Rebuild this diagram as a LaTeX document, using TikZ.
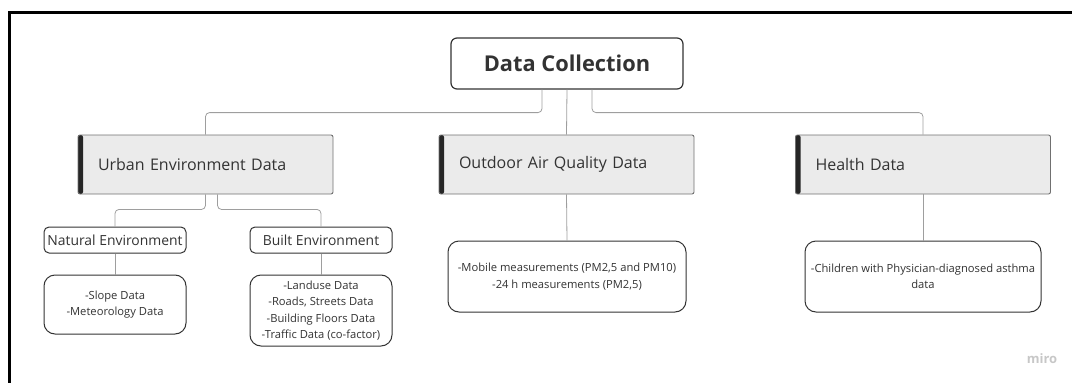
\documentclass[tikz,border=0pt]{standalone}
\usepackage{fontspec}
\setmainfont{Open Sans}
\usepackage{tikz}
\usetikzlibrary{positioning}

\definecolor{ink}{HTML}{333333}
\definecolor{wire}{HTML}{9E9E9E}
\definecolor{panel}{HTML}{EBEBEB}
\definecolor{edge}{HTML}{707070}

\begin{document}
\begin{tikzpicture}[x=1pt,y=-1pt]
    \tikzstyle{every node}+=[inner sep=0pt, text=ink]
    \tikzstyle{rootbox}=[draw=ink, line width=1.2pt, rounded corners=6pt, fill=white,
        minimum width=232pt, minimum height=51pt, font=\bfseries\fontsize{21.8}{24}\selectfont]
    \tikzstyle{groupbox}=[draw=edge, line width=0.9pt, rounded corners=2pt, fill=panel,
        minimum height=59pt, text width=215pt, inner xsep=20pt, align=left,
        font=\fontsize{16}{19}\selectfont,
        path picture={\fill[black!85] (path picture bounding box.south west)
            rectangle ([xshift=5pt]path picture bounding box.north west);}]
    \tikzstyle{subbox}=[draw=ink, line width=1pt, rounded corners=5pt, fill=white,
        minimum width=142pt, minimum height=26pt, font=\fontsize{13.9}{16}\selectfont]
    \tikzstyle{itembox}=[draw=ink, line width=1pt, rounded corners=11pt, fill=white,
        align=center, font=\fontsize{11.2}{16.3}\selectfont]
    \tikzstyle{link}=[draw=wire, line width=0.8pt, rounded corners=4pt]
    \useasboundingbox (0,0) rectangle (1072,383);
    % frame
    \draw [black, line width=3pt] (9,383) -- (9,12.5) -- (1072,12.5);
    % boxes
    \node [rootbox] (dc) at (567,63.5) {Data Collection};
    \node [groupbox] (urban) at (205.5,164.5) {Urban Environment Data};
    \node [groupbox] (air) at (566.5,164.5) {Outdoor Air Quality Data};
    \node [groupbox] (health) at (923,164.5) {Health Data};
    \node [subbox] (natural) at (115,240) {Natural Environment};
    \node [subbox] (built) at (321,240) {Built Environment};
    \node [itembox, minimum width=142pt, minimum height=59pt] (slope) at (115,304.5)
        {-Slope Data\\-Meteorology Data};
    \node [itembox, minimum width=142pt, minimum height=71pt] (landuse) at (321,310.5)
        {-Landuse Data\\-Roads, Streets Data\\-Building Floors Data\\-Traffic Data (co-factor)};
    \node [itembox, minimum width=238pt, minimum height=71pt] (pm) at (567,276.5)
        {-Mobile measurements (PM2,5 and PM10)\\-24 h measurements (PM2,5)};
    \node [itembox, minimum width=236pt, minimum height=71pt] (asthma) at (923,276.5)
        {-Children with Physician-diagnosed asthma\\data};
    \node [text=black!22, font=\bfseries\fontsize{13}{15}\selectfont] (miro) at (1042,359) {miro};
    % links
    \draw [link] ([xshift=-25pt]dc.south) -- ++(0,23) -| (urban.north);
    \draw [link] (dc.south) -- (air.north);
    \draw [link] ([xshift=25pt]dc.south) -- ++(0,23) -| (health.north);
    \draw [link] (urban.south) -- ++(0,15) -| (natural.north);
    \draw [link] ([xshift=12pt]urban.south) -- ++(0,15) -| (built.north);
    \draw [link] (natural.south) -- (slope.north);
    \draw [link] (built.south) -- (landuse.north);
    \draw [link] (air.south) -- (pm.north);
    \draw [link] (health.south) -- (asthma.north);
\end{tikzpicture}
\end{document}
